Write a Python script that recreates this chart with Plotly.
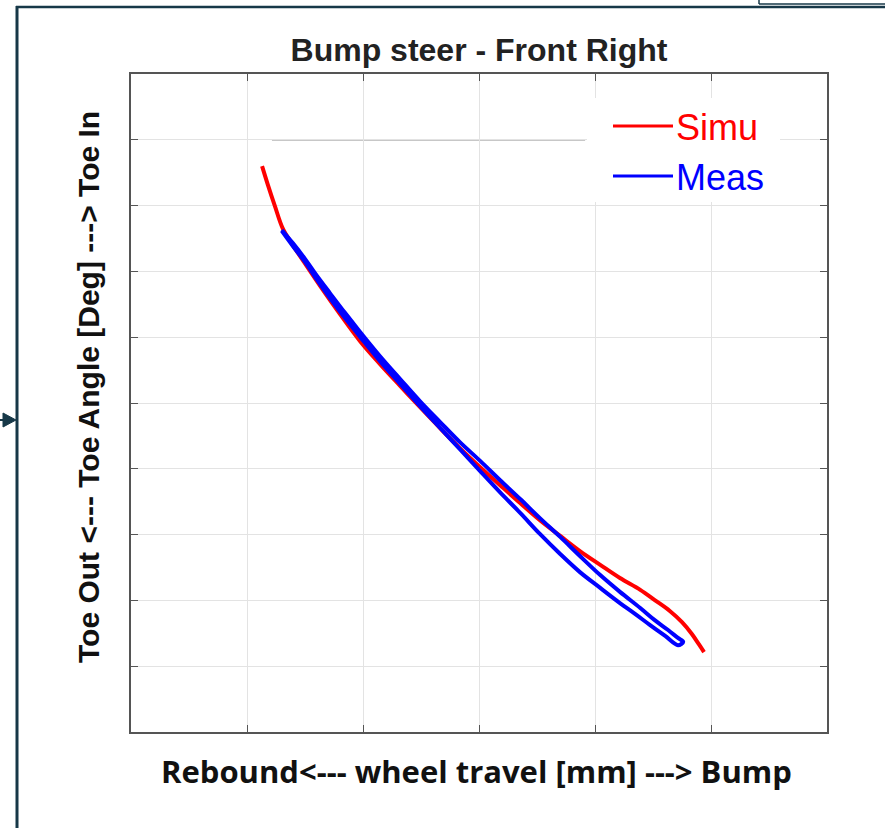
import plotly.graph_objects as go

# Simulated bump-steer curve: wheel travel [mm] vs toe angle [deg]
simu_travel = [-37.4, -36.4, -35.2, -33.8, -32.1, -30.3, -27.4, -24.0, -20.5, -17.1,
               -13.6, -10.2, -6.4, -3.3, 0.2, 3.6, 7.1, 10.5, 14.0, 17.4,
               20.9, 24.3, 27.8, 30.3, 32.9, 35.0, 36.7, 37.9, 38.8]
simu_toe = [0.720, 0.663, 0.599, 0.529, 0.480, 0.432, 0.356, 0.271, 0.188, 0.119,
            0.052, -0.012, -0.082, -0.137, -0.195, -0.249, -0.304, -0.356, -0.404, -0.450,
            -0.492, -0.532, -0.568, -0.599, -0.632, -0.666, -0.702, -0.733, -0.757]

# Measured loop: bump stroke, then the return stroke back to the start
meas_bump_travel = [-34.0, -32.1, -30.0, -27.8, -25.7, -23.1, -20.5, -17.1, -13.6, -10.2,
                    -6.7, -3.3, 0.2, 3.6, 7.1, 10.5, 14.0, 17.4, 20.9, 24.3,
                    27.8, 30.3, 32.6, 34.3, 35.2]
meas_bump_toe = [0.526, 0.486, 0.438, 0.383, 0.334, 0.274, 0.216, 0.143, 0.073, 0.006,
                 -0.058, -0.119, -0.176, -0.234, -0.292, -0.350, -0.407, -0.465, -0.523, -0.574,
                 -0.623, -0.660, -0.690, -0.714, -0.726]
meas_rebound_travel = [34.3, 32.1, 29.5, 26.9, 24.3, 20.9, 17.4, 14.0, 10.5, 7.1,
                       3.6, 0.2, -3.3, -6.7, -10.2, -13.6, -17.1, -20.5, -23.1, -25.7,
                       -27.8, -30.0, -32.1, -34.0]
meas_rebound_toe = [-0.736, -0.708, -0.675, -0.641, -0.608, -0.562, -0.514, -0.459, -0.398, -0.334,
                    -0.271, -0.207, -0.140, -0.076, -0.009, 0.058, 0.128, 0.201, 0.258, 0.319,
                    0.371, 0.429, 0.477, 0.523]

meas_travel = meas_bump_travel + meas_rebound_travel
meas_toe = meas_bump_toe + meas_rebound_toe

series_names = ["Simu", "Meas"]
series_colors = ["#ff0000", "#0000ff"]

# Axis scales (ticks drawn without labels)
x_range = [-60, 60]
x_dtick = 20
y_range = [-1.0, 1.0]
y_dtick = 0.2

# Thin reference line along the top grid row
ref_line_toe = 0.8
ref_line_travel = [-35.7, 18.3]

W, H = 885, 828
ML, MR, MT, MB = 131, 58, 74, 96
PW, PH = W - ML - MR, H - MT - MB


def px(x):
    return (x - ML) / PW


def py(y):
    return (H - MB - y) / PH


fig = go.Figure()
fig.add_trace(go.Scatter(x=simu_travel, y=simu_toe, mode="lines", name=series_names[0],
                         line=dict(color=series_colors[0], width=4, shape="spline", smoothing=1.0),
                         showlegend=False))
fig.add_trace(go.Scatter(x=meas_travel, y=meas_toe, mode="lines", name=series_names[1],
                         line=dict(color=series_colors[1], width=4, shape="spline", smoothing=1.0),
                         showlegend=False))

frame = "#173848"
shapes = [
    # reference line
    dict(type="line", xref="x", yref="y", x0=ref_line_travel[0], x1=ref_line_travel[1],
         y0=ref_line_toe, y1=ref_line_toe, line=dict(color="#8f8f8f", width=1.5), layer="below"),
    # white legend box
    dict(type="rect", xref="paper", yref="paper", x0=px(587), x1=px(780), y0=py(98), y1=py(202),
         fillcolor="white", line=dict(width=0), layer="above"),
    # legend samples
    dict(type="line", xref="paper", yref="paper", x0=px(613), x1=px(673), y0=py(126), y1=py(126),
         line=dict(color=series_colors[0], width=3), layer="above"),
    dict(type="line", xref="paper", yref="paper", x0=px(613), x1=px(673), y0=py(176), y1=py(176),
         line=dict(color=series_colors[1], width=3), layer="above"),
    # outer slide frame
    dict(type="line", xref="paper", yref="paper", x0=px(17), x1=px(17), y0=py(6), y1=py(830),
         line=dict(color=frame, width=3), layer="above"),
    dict(type="line", xref="paper", yref="paper", x0=px(16), x1=px(886), y0=py(7), y1=py(7),
         line=dict(color=frame, width=2.5), layer="above"),
    dict(type="line", xref="paper", yref="paper", x0=px(759), x1=px(759), y0=py(-2), y1=py(4),
         line=dict(color=frame, width=1.5), layer="above"),
    dict(type="line", xref="paper", yref="paper", x0=px(759), x1=px(886), y0=py(4), y1=py(4),
         line=dict(color=frame, width=1.5), layer="above"),
    # connector arrow on the left
    dict(type="line", xref="paper", yref="paper", x0=px(-2), x1=px(8), y0=py(420), y1=py(420),
         line=dict(color=frame, width=2), layer="above"),
    dict(type="path", xref="paper", yref="paper",
         path=f"M {px(3)},{py(413)} L {px(16)},{py(420)} L {px(3)},{py(427)} Z",
         fillcolor=frame, line=dict(color=frame, width=1), layer="above"),
]

annotations = [
    dict(text=series_names[0], xref="paper", yref="paper", x=px(674), y=py(127),
         xanchor="left", yanchor="middle", showarrow=False,
         font=dict(family="Liberation Sans, Arial", size=36, color=series_colors[0])),
    dict(text=series_names[1], xref="paper", yref="paper", x=px(674), y=py(177),
         xanchor="left", yanchor="middle", showarrow=False,
         font=dict(family="Liberation Sans, Arial", size=36, color=series_colors[1])),
    dict(text="Rebound<--- wheel travel [mm] ---> Bump", xref="paper", yref="paper",
         x=px(476), y=py(771), xanchor="center", yanchor="middle", showarrow=False,
         font=dict(family="Open Sans", size=31, color="#111111", weight="bold")),
    dict(text="Toe Out <--- Toe Angle [Deg] ---> Toe In", xref="paper", yref="paper",
         x=px(88), y=py(387), xanchor="center", yanchor="middle", textangle=-90, showarrow=False,
         font=dict(family="Liberation Sans, Arial", size=30, color="#111111", weight="bold")),
]

axis_common = dict(showticklabels=False, ticks="inside", ticklen=7, tickcolor="#555555",
                   showgrid=True, gridcolor="#e3e3e3", gridwidth=1, zeroline=False,
                   showline=True, linecolor="#555555", linewidth=1.5, mirror="ticks")

fig.update_layout(
    width=W, height=H,
    margin=dict(l=ML, r=MR, t=MT, b=MB),
    paper_bgcolor="white", plot_bgcolor="white",
    title=dict(text="Bump steer - Front Right", x=px(479), xref="paper", xanchor="center",
               y=1 - 50 / H, yref="container", yanchor="middle",
               font=dict(family="Liberation Sans, Arial", size=32, color="#222222", weight="bold")),
    xaxis=dict(range=x_range, dtick=x_dtick, tick0=0, **axis_common),
    yaxis=dict(range=y_range, dtick=y_dtick, tick0=0, **axis_common),
    shapes=shapes,
    annotations=annotations,
    showlegend=False,
)

fig.write_html("out.html")
